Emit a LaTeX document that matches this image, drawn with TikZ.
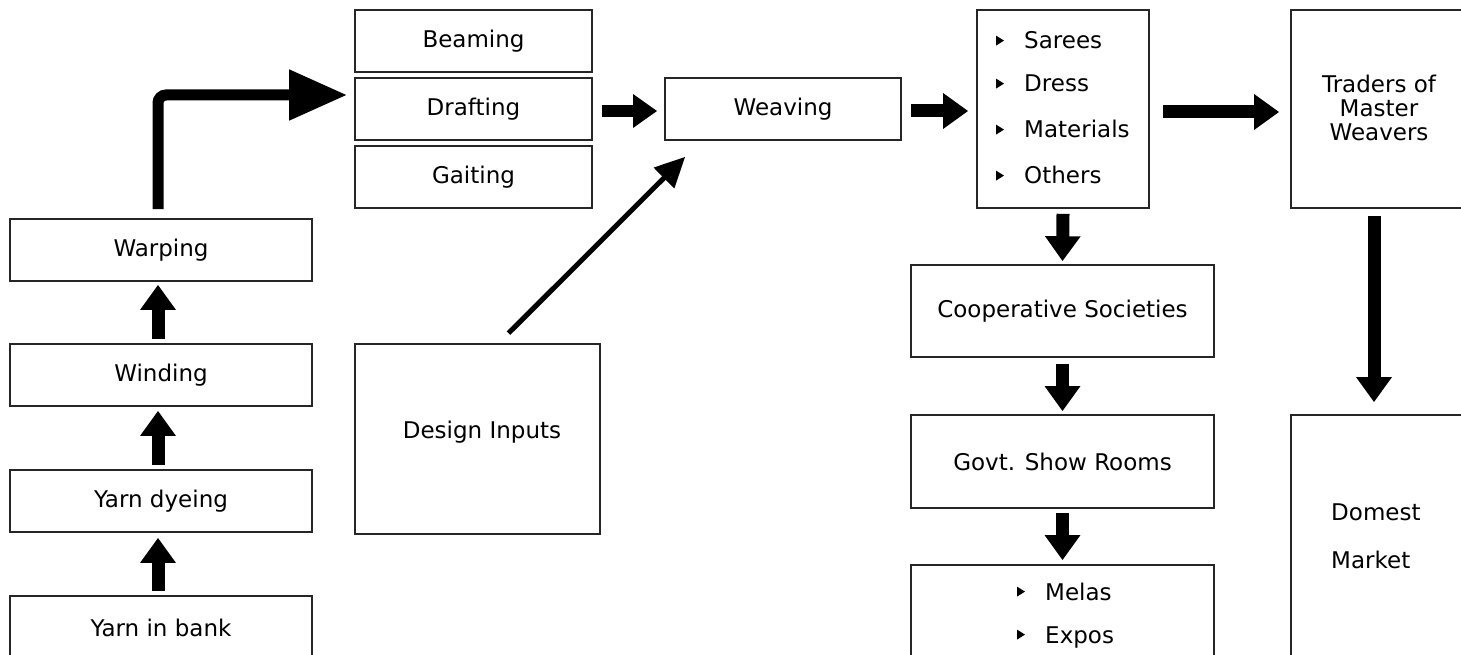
\documentclass[tikz,border=0pt]{standalone}
\usepackage{fontspec}
\setmainfont{DejaVu Sans}
\usetikzlibrary{arrows.meta}
\tikzset{
  box/.style={draw=black!85, line width=1.6pt, inner sep=0pt, align=center},
  txt/.style={inner sep=0pt},
  item/.style={anchor=base west, inner sep=0pt},
  fatarrow/.style={line width=13pt, -{Triangle[length=25pt,width=34pt]}},
  bendarrow/.style={line width=11pt, rounded corners=8pt, -{Triangle[length=58pt,width=48pt]}},
  midarrow/.style={line width=12pt, -{Triangle[length=24pt,width=32pt]}},
  slimarrow/.style={line width=5pt, -{Triangle[length=30pt,width=28pt]}},
}
\newcommand\bulletat[1]{\fill ([xshift=-28pt,yshift=13.4pt]#1.base west) -- ++(8,5) -- ++(-8,5) -- cycle;}
\begin{document}
\begin{tikzpicture}[x=1pt,y=-1pt,font=\fontsize{23pt}{24pt}\selectfont]
\useasboundingbox (0,0) rectangle (1461,655);
% left column
\node[box, minimum width=302pt, minimum height=62pt] (warp) at (161,250) {Warping};
\node[box, minimum width=302pt, minimum height=62pt] (wind) at (161,375) {Winding};
\node[box, minimum width=302pt, minimum height=62pt] (dye) at (161,501) {Yarn dyeing};
\node[box, minimum width=302pt, minimum height=64pt] (bank) at (161,628) {Yarn in bank};
% preparation
\node[box, minimum width=237pt, minimum height=62pt] (beam) at (473.5,41) {Beaming};
\node[box, minimum width=237pt, minimum height=62pt] (draft) at (473.5,109) {Drafting};
\node[box, minimum width=237pt, minimum height=62pt] (gait) at (473.5,177) {Gaiting};
\node[box, minimum width=245pt, minimum height=190pt] (design) at (477.5,439) {};
\node[txt, anchor=base] (designtxt) at (482,438.4) {Design Inputs};
% weaving
\node[box, minimum width=236pt, minimum height=62pt] (weave) at (783,109) {Weaving};
% products
\node[box, minimum width=172pt, minimum height=198pt] (prod) at (1063,109) {};
\node[item] (s1) at (1024,49) {Sarees};
\node[item] (s2) at (1024,92) {Dress};
\node[item] (s3) at (1024,138) {Materials};
\node[item] (s4) at (1024,184) {Others};
\bulletat{s1}\bulletat{s2}\bulletat{s3}\bulletat{s4}
% traders
\node[box, minimum width=176pt, minimum height=198pt] (trade) at (1379,109) {};
\node[txt, align=center] (tradetxt) at (1379,107.8) {Traders of\\Master\\Weavers};
% cooperative chain
\node[box, minimum width=303pt, minimum height=92pt] (coop) at (1062.5,311) {Cooperative Societies};
\node[box, minimum width=303pt, minimum height=93pt] (govt) at (1062.5,461.5) {Govt. Show Rooms};
\node[box, minimum width=303pt, minimum height=100pt] (fair) at (1062.5,615) {};
\node[item] (m1) at (1045,600) {Melas};
\node[item] (m2) at (1045,643) {Expos};
\bulletat{m1}\bulletat{m2}
% domestic market
\node[box, minimum width=176pt, minimum height=250pt] (dom) at (1379,540) {};
\node[item] (d1) at (1331,520) {Domest};
\node[item] (d2) at (1331,568) {Market};
% connectors
\draw[fatarrow] ([xshift=-3pt,yshift=4pt]bank.north) -- ([xshift=-3pt,yshift=-5pt]dye.south);
\draw[fatarrow] ([xshift=-3pt,yshift=4pt]dye.north) -- ([xshift=-3pt,yshift=-4pt]wind.south);
\draw[fatarrow] ([xshift=-3pt,yshift=4pt]wind.north) -- ([xshift=-3pt,yshift=-3pt]warp.south);
\draw[bendarrow] ([xshift=-3pt,yshift=9pt]warp.north) |- ([xshift=-7pt,yshift=14pt]draft.west);
\draw[midarrow] ([xshift=9pt,yshift=-2pt]draft.east) -- ([xshift=-7pt,yshift=-2pt]weave.west);
\draw[slimarrow] ([xshift=31pt,yshift=10pt]design.north) -- ([xshift=21pt,yshift=-16pt]weave.south west);
\draw[fatarrow] ([xshift=9pt,yshift=-2pt]weave.east) -- ([xshift=-8pt,yshift=-2pt]prod.west);
\draw[fatarrow] ([xshift=13pt,yshift=-3pt]prod.east) -- ([xshift=-11pt,yshift=-3pt]trade.west);
\draw[fatarrow] ([yshift=-5pt]prod.south) -- ([yshift=3pt]coop.north);
\draw[fatarrow] ([yshift=-6pt]coop.south) -- ([yshift=3pt]govt.north);
\draw[fatarrow] ([yshift=-4pt]govt.south) -- ([yshift=4pt]fair.north);
\draw[fatarrow] ([xshift=-5pt,yshift=-7pt]trade.south) -- ([xshift=-5pt,yshift=12pt]dom.north);
\end{tikzpicture}
\end{document}
